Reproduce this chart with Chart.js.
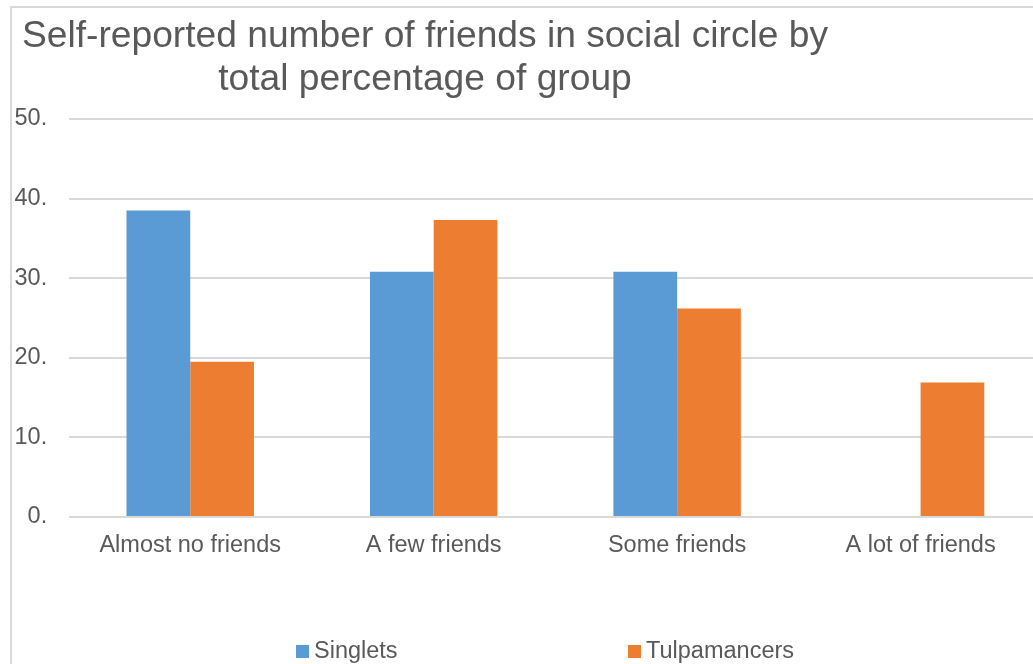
<!DOCTYPE html>
<html>
<head>
<meta charset="utf-8">
<script src="https://cdn.jsdelivr.net/npm/chart.js@4.4.1/dist/chart.umd.min.js"></script>
<style>
  html, body { margin: 0; padding: 0; background: #ffffff; overflow: hidden; width: 1033px; height: 664px; }
  #frame { position: absolute; left: 10px; top: 6px; width: 1100px; height: 700px; border-left: 2px solid #d9d9d9; border-top: 2px solid #d9d9d9; box-sizing: border-box; }
  #wrap { position: absolute; left: 0; top: 0; width: 1046px; height: 664px; }
</style>
</head>
<body>
<div id="frame"></div>
<div id="wrap"><canvas id="c" width="1046" height="664"></canvas></div>
<script>
const titleLines = ['Self-reported number of friends in social circle by', 'total percentage of group'];
const categories = ['Almost no friends', 'A few friends', 'Some friends', 'A lot of friends'];
const seriesNames = ['Singlets', 'Tulpamancers'];
const singlets = [38.5, 30.8, 30.8, 0];
const tulpamancers = [19.5, 37.3, 26.2, 16.9];
const yTickLabels = ['0.', '10.', '20.', '30.', '40.', '50.'];

const FONT = "'Liberation Sans', Arial, sans-serif";
const TEXT = '#595959';

const titlePlugin = {
  id: 'customTitle',
  afterDraw(chart) {
    const ctx = chart.ctx;
    ctx.save();
    ctx.fillStyle = TEXT;
    ctx.font = '37.2px ' + FONT;
    ctx.textAlign = 'center';
    ctx.textBaseline = 'alphabetic';
    const baselines = [47, 90];
    titleLines.forEach((t, i) => ctx.fillText(t, 425, baselines[i]));
    ctx.restore();
  }
};

const legendPlugin = {
  id: 'customLegend',
  afterDraw(chart) {
    const ctx = chart.ctx;
    const boxX = [296, 628];
    const boxY = 645, box = 13;
    ctx.save();
    ctx.font = '23.5px ' + FONT;
    ctx.textBaseline = 'middle';
    ctx.textAlign = 'left';
    chart.data.datasets.forEach((ds, i) => {
      ctx.fillStyle = ds.backgroundColor;
      ctx.fillRect(boxX[i], boxY, box, box);
      ctx.fillStyle = TEXT;
      ctx.fillText(ds.label, boxX[i] + 18, boxY + box / 2);
    });
    ctx.restore();
  }
};

new Chart(document.getElementById('c'), {
  type: 'bar',
  data: {
    labels: categories,
    datasets: [
      { label: seriesNames[0], data: singlets, backgroundColor: '#5b9bd5', borderWidth: 0 },
      { label: seriesNames[1], data: tulpamancers, backgroundColor: '#ed7d31', borderWidth: 0 }
    ]
  },
  options: {
    responsive: false,
    animation: false,
    devicePixelRatio: 1,
    layout: { padding: { left: 0, right: 3.7, top: 119, bottom: 0 } },
    datasets: { bar: { categoryPercentage: 0.5235, barPercentage: 1.0 } },
    plugins: {
      legend: { display: false },
      title: { display: false },
      tooltip: { enabled: false }
    },
    scales: {
      x: {
        grid: { display: false, drawTicks: false },
        border: { display: false },
        ticks: { color: TEXT, font: { family: FONT, size: 23.5 }, padding: 14, maxRotation: 0 },
        afterFit(scale) { scale.height = 664 - 517; }
      },
      y: {
        min: 0, max: 50,
        grid: { color: '#d9d9d9', lineWidth: 2, drawTicks: false },
        border: { display: false },
        ticks: {
          stepSize: 10,
          color: TEXT,
          font: { family: FONT, size: 23.5 },
          padding: 21.3,
          callback: (v, i) => yTickLabels[i]
        },
        afterFit(scale) { scale.width = 68.5; }
      }
    }
  },
  plugins: [titlePlugin, legendPlugin]
});
</script>
</body>
</html>
